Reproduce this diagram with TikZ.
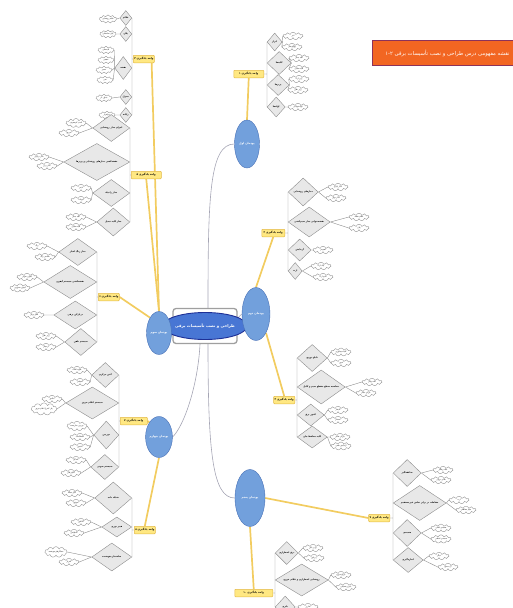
\documentclass[tikz,border=0pt]{standalone}
\usepackage{fontspec}
\newfontfamily\farsi[Script=Arabic]{DejaVu Sans}
\TeXXeTstate=1
\usetikzlibrary{shapes.geometric,shapes.symbols,backgrounds}

\definecolor{hubblue}{RGB}{72,118,212}
\definecolor{hubline}{RGB}{30,48,150}
\definecolor{topicblue}{RGB}{114,160,220}
\definecolor{topicline}{RGB}{72,112,182}
\definecolor{labelyellow}{RGB}{240,240,30}
\definecolor{unitfill}{RGB}{255,232,130}
\definecolor{unitline}{RGB}{226,184,70}
\definecolor{linkyellow}{RGB}{242,204,96}
\definecolor{linkgray}{RGB}{165,165,180}
\definecolor{diafill}{RGB}{232,232,232}
\definecolor{diadraw}{RGB}{140,140,140}
\definecolor{titlefill}{RGB}{242,102,34}
\definecolor{titleline}{RGB}{140,50,90}
\definecolor{titletext}{RGB}{255,242,210}

\tikzset{
  rtl/.style={execute at begin node=\beginR, execute at end node=\endR},
  rootbox/.style={draw=gray!75, line width=1.3pt, rounded corners=3pt, fill=white,
    minimum width=64, minimum height=35},
  hub/.style={ellipse, draw=hubline, line width=0.9pt, fill=hubblue, text=labelyellow,
    minimum width=59, minimum height=27, inner sep=0pt, rtl,
    font=\farsi\bfseries\fontsize{3.9}{4.4}\selectfont},
  topic/.style={ellipse, draw=topicline, line width=0.4pt, fill=topicblue, text=labelyellow,
    inner sep=0pt, rtl, font=\farsi\bfseries\fontsize{2.8}{3.2}\selectfont},
  unit/.style={draw=unitline, line width=0.5pt, fill=unitfill, rounded corners=0.8pt,
    inner sep=1pt, minimum height=7.5, rtl, font=\farsi\bfseries\fontsize{2.6}{3}\selectfont},
  dia/.style 2 args={diamond, aspect=1.5, draw=diadraw, line width=0.4pt, fill=diafill,
    inner sep=0pt, minimum width=#1, minimum height=#2, rtl,
    font=\farsi\bfseries\fontsize{2.2}{2.6}\selectfont},
  leaf/.style={cloud, cloud puffs=11, aspect=3.5, draw=diadraw, line width=0.35pt, fill=white,
    inner sep=0.3pt, minimum width=20, minimum height=7.5, rtl,
    font=\farsi\fontsize{1.9}{2.2}\selectfont},
  titlebox/.style={draw=titleline, line width=0.8pt, fill=titlefill, text=titletext,
    inner xsep=4pt, inner ysep=2pt, minimum height=25, minimum width=150, rtl,
    font=\farsi\fontsize{5.3}{6}\selectfont},
  gline/.style={draw=linkgray, line width=0.6pt},
  yline/.style={draw=linkyellow, line width=1.7pt},
  bline/.style={draw=diadraw, line width=0.4pt}
}

\begin{document}
\begin{tikzpicture}[x=1pt, y=-1pt]
\useasboundingbox (0,0) rectangle (513,608);

\node[titlebox, anchor=west] (title) at (372,53) {نقشه مفهومی درس طراحی و نصب تأسیسات برقی \beginL۱-۲\endL};

% center
\node[rootbox] (root) at (205,326) {};
\node[hub] (hub) at (205,326) {طراحی و نصب تأسیسات برقی};

\node[topic, minimum width=25, minimum height=48] (p1) at (247,144) {پودمان اول};
\node[topic, minimum width=28, minimum height=53] (p2) at (256,314) {پودمان دوم};
\node[topic, minimum width=25, minimum height=43] (p3) at (159,333) {پودمان سوم};
\node[topic, minimum width=22, minimum height=41] (p4) at (159,437) {پودمان چهارم};
\node[topic, minimum width=30, minimum height=57] (p5) at (250,498) {پودمان پنجم};

% unit 1
\node[unit, anchor=east, minimum width=30] (a) at (264,74) {واحد یادگیری ۱};
\node[dia={15}{18}, anchor=west] (a1) at (267,42) {ابزار};
\node[dia={24}{23}, anchor=west] (a2) at (267,63) {کلیدها};
\node[dia={22}{21}, anchor=west] (a3) at (267,85) {پریزها};
\node[dia={18}{20}, anchor=west] (a4) at (267,107) {لوله‌ها};
\draw (293,36) node[leaf] (a11) {انبر} ++(-1,11) node[leaf] (a12) {پیچ‌گوشتی};
\draw (299,58) node[leaf] (a21) {کلید تبدیل} ++(0,11) node[leaf] (a22) {کلید صلیبی};
\draw (299,79) node[leaf] (a31) {پریز ارت} ++(-1,11) node[leaf] (a32) {پریز تلفن};
\draw (298,107) node[leaf] (a41) {لوله فولادی};

% unit 2
\node[unit, anchor=east, minimum width=23] (b) at (285,233) {واحد یادگیری ۲};
\node[dia={30}{28}, anchor=west] (b1) at (288,192) {مدارهای روشنایی};
\node[dia={42}{30}, anchor=west] (b2) at (288,222) {نقشه‌خوانی مدار سیم‌کشی};
\node[dia={23}{22}, anchor=west] (b3) at (288,250) {آزمایش};
\node[dia={14}{17}, anchor=west] (b4) at (288,271) {ارت};
\draw (338,187) node[leaf] (b11) {مدار یک‌پل} ++(-2,11) node[leaf] (b12) {مدار دوپل};
\draw (359,217) node[leaf] (b21) {علائم نقشه} ++(0,11) node[leaf] (b22) {پلان};
\draw (323,250) node[leaf] (b31) {اهم‌متر};
\draw (321,266) node[leaf] (b41) {چاه ارت} ++(2,11) node[leaf] (b42) {سیم ارت};

% unit 3
\node[unit, anchor=east, minimum width=20] (c) at (295,400) {واحد یادگیری ۳};
\node[dia={30}{27}, anchor=west] (c1) at (297,358) {تابلو توزیع};
\node[dia={48}{34}, anchor=west] (c2) at (297,387) {محاسبه سطح مقطع سیم و کابل};
\node[dia={27}{22}, anchor=west] (c3) at (297,415) {کنتور برق};
\node[dia={30}{22}, anchor=west] (c4) at (297,437) {کلید محافظ جان};
\draw (341,352) node[leaf] (c11) {کلید مینیاتوری} ++(0,11) node[leaf] (c12) {فیوز};
\draw (372,382) node[leaf] (c21) {افت ولتاژ} ++(-6,11) node[leaf] (c22) {جریان مجاز};
\draw (338,410) node[leaf] (c31) {تک‌فاز} ++(0,10) node[leaf] (c32) {سه‌فاز};
\draw (340,437) node[leaf] (c41) {جریان نشتی} ++(1,9) node[leaf] (c42) {آزمایش نشتی};

% unit 4
\node[unit, anchor=west, minimum width=20] (d) at (133,59) {واحد یادگیری ۴};
\node[dia={12}{15}, anchor=east] (d1) at (132,18) {علائم};
\node[dia={12}{15}, anchor=east] (d2) at (132,34) {پلان};
\node[dia={17}{23}, anchor=east] (d3) at (132,68) {نقشه};
\node[dia={12}{15}, anchor=east] (d4) at (132,97) {جدول};
\node[dia={12}{15}, anchor=east] (d5) at (132,115) {رایانه};
\draw (108,19) node[leaf, minimum width=16] (d11) {علائم روشنایی};
\draw (108,34) node[leaf, minimum width=16] (d21) {پلان ساختمان};
\draw (106,50) node[leaf, minimum width=16] (d31) {تک‌خطی} ++(0,10) node[leaf, minimum width=16] (d32) {حقیقی}
  ++(-2,10) node[leaf, minimum width=16] (d33) {مسیر} ++(1,10) node[leaf, minimum width=16] (d34) {فنی};
\draw (104,98) node[leaf, minimum width=16] (d41) {جدول بار};
\draw (107,115) node[leaf, minimum width=16] (d51) {نرم‌افزار};

% unit 5
\node[unit, anchor=west, minimum width=30] (e) at (131,175) {واحد یادگیری ۵};
\node[dia={37}{27}, anchor=east] (e1) at (130,128) {اجزای مدار روشنایی};
\node[dia={66}{37}, anchor=east] (e2) at (130,162) {نقشه‌کشی مدارهای روشنایی و پریزها};
\node[dia={37}{27}, anchor=east] (e3) at (130,193) {مدار راه‌پله};
\node[dia={33}{28}, anchor=east] (e4) at (130,222) {مدار کلید تبدیل};
\draw (76,123) node[leaf] (e11) {لامپ کم‌مصرف} ++(-7,10) node[leaf] (e12) {سرپیچ};
\draw (39,157) node[leaf] (e21) {مدار ترکیبی} ++(8,9) node[leaf] (e22) {مدار پریز};
\draw (81,188) node[leaf] (e31) {تایمر} ++(0,12) node[leaf] (e32) {اتومات};
\draw (76,217) node[leaf] (e41) {کلید تبدیل} ++(0,10) node[leaf] (e42) {کلید صلیبی};

% unit 6
\node[unit, anchor=west, minimum width=20] (f) at (98,297) {واحد یادگیری ۶};
\node[dia={38}{27}, anchor=east] (f1) at (97,252) {مدار زنگ اخبار};
\node[dia={53}{33}, anchor=east] (f2) at (97,282) {نقشه‌کشی سیستم آیفون};
\node[dia={43}{28}, anchor=east] (f3) at (97,315) {دربازکن برقی};
\node[dia={32}{27}, anchor=east] (f4) at (97,342) {سیستم تلفن};
\draw (37,246) node[leaf] (f11) {زنگ} ++(8,11) node[leaf] (f12) {شستی زنگ};
\draw (27,277) node[leaf] (f21) {آیفون صوتی} ++(-7,11) node[leaf] (f22) {آیفون تصویری};
\draw (34,315) node[leaf] (f31) {قفل برقی};
\draw (46,336) node[leaf] (f41) {پریز تلفن} ++(0,11) node[leaf] (f42) {ترمینال};

% unit 7
\node[unit, anchor=west, minimum width=27] (g) at (120,421) {واحد یادگیری ۷};
\node[dia={27}{25}, anchor=east] (g1) at (119,375) {آنتن مرکزی};
\node[dia={53}{32}, anchor=east] (g2) at (119,403) {سیستم اعلام حریق};
\node[dia={25}{28}, anchor=east] (g3) at (119,435) {دوربین};
\node[dia={28}{25}, anchor=east] (g4) at (119,467) {سیستم صوتی};
\draw (77,370) node[leaf] (g11) {تقویت‌کننده} ++(3,12) node[leaf] (g12) {اسپلیتر};
\draw (52,399) node[leaf] (g21) {دتکتور} ++(-8,10) node[leaf] (g22) {پنل کنترل اعلام حریق};
\draw (77,426) node[leaf] (g31) {دوربین مداربسته} ++(3,11) node[leaf] (g32) {ضبط‌کننده}
  ++(0,10) node[leaf] (g33) {مانیتور};
\draw (76,460) node[leaf] (g41) {بلندگو} ++(-5,13) node[leaf] (g42) {آمپلی‌فایر};

% unit 8
\node[unit, anchor=west, minimum width=20] (h) at (134,530) {واحد یادگیری ۸};
\node[dia={37}{32}, anchor=east] (h1) at (132,498) {شبکه داده};
\node[dia={30}{20}, anchor=east] (h2) at (132,527) {فیبر نوری};
\node[dia={40}{28}, anchor=east] (h3) at (132,557) {ساختمان هوشمند};
\draw (72,493) node[leaf] (h11) {کابل شبکه} ++(4,10) node[leaf] (h12) {سوئیچ};
\draw (81,522) node[leaf] (h21) {کانکتور} ++(-7,11) node[leaf] (h22) {اسپلایس};
\draw (56,552) node[leaf] (h31) {حسگرهای هوشمند} ++(13,10) node[leaf] (h32) {کنترلر};

% unit 9
\node[unit, anchor=east, minimum width=20] (i) at (390,518) {واحد یادگیری ۹};
\node[dia={28}{27}, anchor=west] (i1) at (393,473) {صاعقه‌گیر};
\node[dia={53}{35}, anchor=west] (i2) at (393,503) {حفاظت در برابر تماس غیرمستقیم};
\node[dia={28}{27}, anchor=west] (i3) at (393,533) {همبندی};
\node[dia={30}{25}, anchor=west] (i4) at (393,560) {اندازه‌گیری};
\draw (443,470) node[leaf] (i11) {میله برقگیر} ++(-2,10) node[leaf] (i12) {هادی نزولی};
\draw (459,500) node[leaf] (i21) {ارت} ++(7,10) node[leaf] (i22) {سیم حفاظتی};
\draw (441,528) node[leaf] (i31) {همبندی اصلی} ++(0,11) node[leaf] (i32) {همبندی اضافی};
\draw (439,556) node[leaf] (i41) {میگر} ++(9,11) node[leaf] (i42) {ارت‌سنج};

% unit 10
\node[unit, anchor=east, minimum width=38] (j) at (273,593) {واحد یادگیری ۱۰};
\node[dia={23}{23}, anchor=west] (j1) at (275,553) {برق اضطراری};
\node[dia={53}{32}, anchor=west] (j2) at (275,580) {روشنایی اضطراری و علائم خروج};
\node[dia={20}{22}, anchor=west] (j3) at (275,607) {باتری};
\draw (313,548) node[leaf] (j11) {یو پی اس} ++(1,10) node[leaf] (j12) {ژنراتور};
\draw (341,575) node[leaf] (j21) {چراغ خروج} ++(5,12) node[leaf] (j22) {باتری پشتیبان};
\draw (308,607) node[leaf] (j31) {شارژر};

\begin{scope}[on background layer]
  % links from the center
  \draw[gline] ([xshift=3]root.north) .. controls +(0,-110) and +(-25,0) .. (p1.west);
  \draw[gline] ([yshift=8]root.east) -- (p2.west);
  \draw[gline] (root.west) -- (p3.east);
  \draw[gline] ([xshift=-5]root.south) .. controls +(-2,40) and +(12,-12) .. (p4.east);
  \draw[gline] ([xshift=3]root.south) .. controls +(0,110) and +(-22,0) .. (p5.west);

  \draw[yline] (p1.north) -- (a.south);
  \draw[yline] (p2.north) -- (b.south);
  \draw[yline] (p2.south east) -- (c.north);
  \draw[yline] (p3.north) -- ([xshift=-3]d.south east);
  \draw[yline] (p3.north) -- (e.south);
  \draw[yline] (p3.north west) -- (f.east);
  \draw[yline] (p4.north west) -- (g.east);
  \draw[yline] (p4.south) -- (h.north);
  \draw[yline] (p5.east) -- (i.west);
  \draw[yline] (p5.south) -- (j.north);

  \draw[bline] (a.east) -- (a.east -| a1.west) (a1.west) -- (a4.west)
    (a1.east) -- (a11.west) (a1.east) -- (a12.west) (a2.east) -- (a21.west) (a2.east) -- (a22.west)
    (a3.east) -- (a31.west) (a3.east) -- (a32.west) (a4.east) -- (a41.west);
  \draw[bline] (b.east) -- (b.east -| b1.west) (b1.west) -- (b4.west)
    (b1.east) -- (b11.west) (b1.east) -- (b12.west) (b2.east) -- (b21.west) (b2.east) -- (b22.west)
    (b3.east) -- (b31.west) (b4.east) -- (b41.west) (b4.east) -- (b42.west);
  \draw[bline] (c.east) -- (c.east -| c1.west) (c1.west) -- (c4.west)
    (c1.east) -- (c11.west) (c1.east) -- (c12.west) (c2.east) -- (c21.west) (c2.east) -- (c22.west)
    (c3.east) -- (c31.west) (c3.east) -- (c32.west) (c4.east) -- (c41.west) (c4.east) -- (c42.west);
  \draw[bline] (d.west) -- (d.west -| d1.east) (d1.east) -- (d5.east)
    (d1.west) -- (d11.east) (d2.west) -- (d21.east) (d3.west) -- (d31.east) (d3.west) -- (d32.east)
    (d3.west) -- (d33.east) (d3.west) -- (d34.east) (d4.west) -- (d41.east) (d5.west) -- (d51.east);
  \draw[bline] (e.west) -- (e.west -| e1.east) (e1.east) -- (e4.east)
    (e1.west) -- (e11.east) (e1.west) -- (e12.east) (e2.west) -- (e21.east) (e2.west) -- (e22.east)
    (e3.west) -- (e31.east) (e3.west) -- (e32.east) (e4.west) -- (e41.east) (e4.west) -- (e42.east);
  \draw[bline] (f.west) -- (f.west -| f1.east) (f1.east) -- (f4.east)
    (f1.west) -- (f11.east) (f1.west) -- (f12.east) (f2.west) -- (f21.east) (f2.west) -- (f22.east)
    (f3.west) -- (f31.east) (f4.west) -- (f41.east) (f4.west) -- (f42.east);
  \draw[bline] (g.west) -- (g.west -| g1.east) (g1.east) -- (g4.east)
    (g1.west) -- (g11.east) (g1.west) -- (g12.east) (g2.west) -- (g21.east) (g2.west) -- (g22.east)
    (g3.west) -- (g31.east) (g3.west) -- (g32.east) (g3.west) -- (g33.east)
    (g4.west) -- (g41.east) (g4.west) -- (g42.east);
  \draw[bline] (h.west) -- (h.west -| h1.east) (h1.east) -- (h3.east)
    (h1.west) -- (h11.east) (h1.west) -- (h12.east) (h2.west) -- (h21.east) (h2.west) -- (h22.east)
    (h3.west) -- (h31.east) (h3.west) -- (h32.east);
  \draw[bline] (i.east) -- (i.east -| i1.west) (i1.west) -- (i4.west)
    (i1.east) -- (i11.west) (i1.east) -- (i12.west) (i2.east) -- (i21.west) (i2.east) -- (i22.west)
    (i3.east) -- (i31.west) (i3.east) -- (i32.west) (i4.east) -- (i41.west) (i4.east) -- (i42.west);
  \draw[bline] (j.east) -- (j.east -| j1.west) (j1.west) -- (j3.west)
    (j1.east) -- (j11.west) (j1.east) -- (j12.west) (j2.east) -- (j21.west) (j2.east) -- (j22.west)
    (j3.east) -- (j31.west);
\end{scope}
\end{tikzpicture}
\end{document}
